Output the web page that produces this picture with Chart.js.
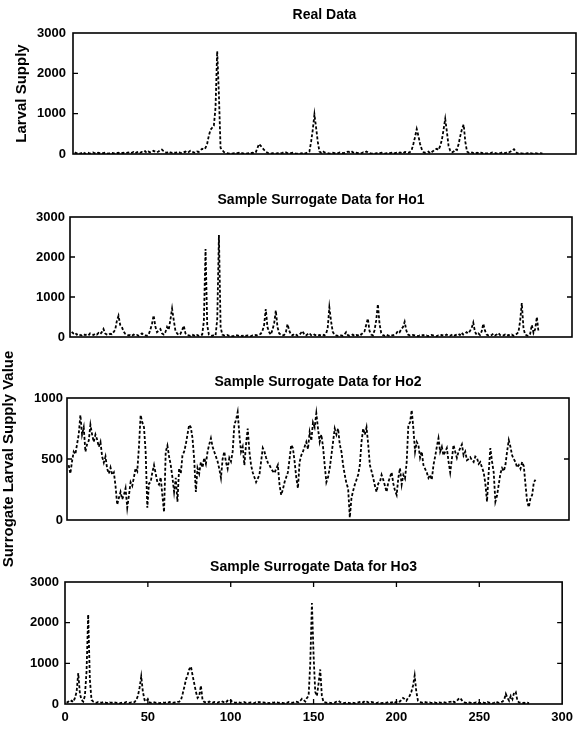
<!DOCTYPE html>
<html>
<head>
<meta charset="utf-8">
<script src="https://cdn.jsdelivr.net/npm/chart.js@4/dist/chart.umd.min.js"></script>
<style>
  html, body { margin: 0; padding: 0; background: #fff; }
  #fig { position: relative; width: 579px; height: 732px; overflow: hidden; background: #fff; }
  #fig canvas { position: absolute; left: 0; }
</style>
</head>
<body>
<div id="fig">
  <canvas id="p1" width="579" height="172" style="top:0px"></canvas>
  <canvas id="p2" width="579" height="172" style="top:178px"></canvas>
  <canvas id="p3" width="579" height="242" style="top:338px"></canvas>
  <canvas id="p4" width="579" height="182" style="top:550px"></canvas>
</div>
<script>
// Sampling days (x) shared by all four series
const days = Array.from({ length: 280 }, (_, i) => i + 1);

// Tick values
const xTickValues = [0, 50, 100, 150, 200, 250, 300];
const yTicksSupply = [0, 1000, 2000, 3000];
const yTicksHo2 = [0, 500, 1000];

// Observed larval supply
const realData = [
  40, 20, 30, 10, 20, 50, 10, 20, 30, 10,
  20, 40, 20, 10, 30, 20, 10, 20, 30, 20,
  10, 20, 30, 20, 10, 20, 30, 10, 20, 30,
  20, 30, 40, 20, 30, 50, 20, 40, 60, 30,
  50, 40, 70, 30, 60, 40, 50, 80, 60, 40,
  60, 90, 110, 70, 40, 30, 60, 40, 30, 50,
  30, 40, 50, 30, 20, 40, 60, 30, 50, 80,
  60, 40, 30, 60, 50, 90, 130, 110, 150, 250,
  450, 600, 650, 700, 1150, 2550, 1500, 150, 100, 50,
  30, 20, 10, 20, 10, 20, 10, 20, 30, 10,
  20, 10, 20, 10, 30, 20, 30, 20, 40, 150,
  250, 200, 150, 100, 60, 30, 20, 10, 20, 10,
  10, 20, 10, 20, 30, 50, 40, 20, 10, 20,
  30, 20, 10, 10, 20, 10, 30, 10, 20, 50,
  60, 300, 600, 980, 650, 300, 60, 30, 70, 40,
  30, 20, 10, 20, 30, 20, 10, 20, 40, 30,
  20, 30, 40, 60, 50, 70, 40, 20, 30, 20,
  10, 20, 40, 30, 60, 40, 20, 10, 20, 10,
  20, 10, 20, 30, 20, 10, 20, 10, 20, 30,
  10, 20, 30, 20, 40, 30, 20, 50, 40, 30,
  50, 100, 250, 420, 620, 450, 250, 120, 50, 30,
  40, 60, 20, 50, 80, 120, 130, 100, 200, 350,
  600, 870, 550, 200, 80, 40, 60, 120, 100, 250,
  450, 620, 730, 300, 60, 30, 20, 40, 20, 10,
  30, 20, 40, 20, 30, 20, 10, 30, 20, 40,
  30, 20, 10, 30, 20, 40, 30, 20, 50, 40,
  60, 90, 120, 60, 20, 10, 20, 10, 20, 10,
  20, 10, 20, 10, 10, 20, 10, 10, 20, 10
];

// Surrogate series, null hypothesis Ho1
const surrogateHo1 = [
  130, 90, 110, 60, 80, 50, 40, 70, 50, 60,
  40, 90, 70, 50, 80, 60, 100, 70, 120, 200,
  90, 60, 50, 80, 70, 120, 180, 400, 530, 300,
  250, 140, 80, 60, 40, 50, 30, 60, 40, 50,
  30, 60, 90, 50, 40, 30, 60, 180, 330, 540,
  260, 120, 160, 200, 90, 60, 120, 250, 180, 430,
  710, 420, 160, 90, 50, 80, 170, 280, 90, 50,
  40, 30, 60, 40, 20, 50, 30, 40, 60, 400,
  2200, 300, 60, 40, 30, 50, 40, 450, 2550, 250,
  60, 40, 30, 50, 30, 40, 20, 30, 50, 40,
  30, 40, 20, 50, 30, 40, 30, 20, 40, 30,
  50, 40, 60, 80, 150, 300, 700, 250, 120, 60,
  180, 340, 660, 250, 90, 60, 40, 50, 120, 320,
  160, 60, 40, 80, 60, 30, 50, 100, 150, 60,
  40, 70, 100, 50, 30, 60, 40, 30, 50, 40,
  60, 40, 80, 220, 740, 400, 130, 60, 40, 30,
  50, 40, 30, 60, 120, 50, 30, 40, 60, 30,
  50, 40, 80, 60, 100, 140, 300, 460, 150, 60,
  40, 170, 420, 820, 320, 100, 50, 30, 60, 40,
  30, 50, 40, 60, 90, 150, 120, 200, 250, 380,
  160, 60, 40, 30, 50, 40, 30, 20, 40, 30,
  50, 30, 40, 20, 30, 50, 40, 30, 20, 40,
  30, 50, 40, 30, 60, 40, 30, 50, 70, 40,
  60, 80, 50, 110, 60, 80, 120, 90, 150, 220,
  360, 130, 60, 90, 50, 140, 330, 160, 60, 40,
  30, 50, 80, 40, 60, 100, 50, 30, 40, 60,
  30, 50, 40, 60, 30, 50, 80, 120, 400, 850,
  220, 60, 40, 30, 80, 300, 100, 200, 500, 120
];

// Surrogate series, null hypothesis Ho2
const surrogateHo2 = [
  450, 380, 480, 560, 540, 620, 700, 860, 700, 760,
  560, 620, 650, 780, 700, 640, 700, 660, 600, 640,
  520, 470, 520, 420, 380, 430, 370, 390, 280, 125,
  180, 230, 170, 205, 260, 100, 200, 310, 280, 350,
  425, 400, 600, 860, 800, 760, 560, 100, 300, 310,
  390, 450, 380, 310, 290, 350, 200, 65, 560, 610,
  520, 450, 350, 230, 345, 150, 425, 380, 530, 560,
  620, 700, 780, 760, 670, 500, 230, 425, 380, 475,
  430, 510, 460, 560, 620, 670, 600, 560, 520, 480,
  420, 345, 500, 560, 475, 420, 510, 480, 560, 780,
  820, 885, 700, 560, 600, 450, 620, 750, 560, 450,
  390, 350, 310, 340, 370, 480, 590, 560, 510, 470,
  450, 420, 400, 385, 420, 450, 290, 205, 250, 310,
  350, 390, 500, 615, 590, 480, 350, 260, 475, 530,
  560, 600, 640, 580, 720, 650, 800, 760, 875, 750,
  640, 700, 600, 450, 310, 350, 425, 530, 640, 750,
  700, 750, 620, 560, 450, 370, 300, 260, 20, 180,
  240, 290, 330, 370, 450, 640, 750, 700, 760, 620,
  450, 400, 345, 280, 230, 300, 310, 370, 330, 280,
  230, 310, 350, 390, 300, 240, 205, 345, 425, 290,
  370, 340, 475, 780, 800, 900, 750, 560, 640, 615,
  510, 560, 450, 420, 390, 345, 370, 330, 450, 520,
  600, 670, 560, 600, 530, 560, 590, 480, 390, 500,
  615, 560, 510, 560, 590, 620, 530, 560, 490, 500,
  515, 490, 475, 520, 510, 460, 475, 430, 390, 300,
  150, 390, 590, 480, 390, 150, 200, 290, 380, 425,
  400, 450, 560, 655, 600, 530, 500, 475, 430, 450,
  420, 475, 440, 290, 150, 105, 180, 205, 310, 330
];

// Surrogate series, null hypothesis Ho3
const surrogateHo3 = [
  30, 60, 40, 80, 50, 150, 300, 760, 250, 100,
  60, 200, 800, 2200, 600, 100, 60, 40, 30, 50,
  40, 30, 50, 40, 30, 20, 40, 30, 50, 40,
  30, 40, 20, 30, 40, 30, 50, 40, 30, 40,
  30, 50, 100, 200, 400, 680, 300, 100, 60, 120,
  40, 30, 50, 40, 30, 40, 20, 30, 40, 30,
  40, 30, 50, 40, 30, 40, 30, 50, 60, 100,
  250, 420, 600, 720, 860, 920, 700, 500, 300, 150,
  200, 450, 100, 50, 40, 30, 60, 40, 30, 50,
  40, 30, 50, 40, 60, 40, 30, 80, 60, 90,
  50, 40, 30, 50, 40, 30, 40, 50, 30, 40,
  30, 40, 30, 20, 40, 30, 50, 40, 30, 40,
  30, 40, 20, 30, 40, 30, 50, 40, 30, 40,
  30, 20, 40, 30, 50, 40, 30, 40, 60, 50,
  40, 80, 130, 100, 60, 150, 200, 1000, 2480, 1200,
  300, 200, 500, 850, 200, 50, 40, 30, 40, 30,
  20, 30, 40, 60, 80, 50, 30, 20, 30, 40,
  30, 20, 40, 30, 20, 30, 40, 50, 60, 40,
  80, 60, 40, 30, 50, 40, 30, 20, 40, 30,
  20, 30, 40, 30, 50, 40, 30, 60, 40, 50,
  80, 60, 100, 150, 120, 80, 150, 200, 300, 450,
  700, 300, 80, 50, 40, 30, 50, 40, 30, 40,
  30, 20, 40, 30, 20, 40, 30, 50, 40, 30,
  40, 50, 60, 80, 40, 60, 100, 150, 120, 60,
  40, 30, 20, 40, 30, 20, 30, 40, 20, 30,
  20, 40, 30, 20, 50, 30, 40, 20, 30, 60,
  40, 30, 50, 60, 100, 250, 150, 80, 200, 120,
  280, 300, 80, 40, 30, 20, 30, 20, 30, 20
];

const FONT = '"Liberation Sans", Arial, Helvetica, sans-serif';
const W = 579;

// Box around the plot area with short inward tick marks on every side
const framePlugin = {
  id: 'frame',
  afterDatasetsDraw(chart, args, opts) {
    const { ctx, chartArea: a, scales: { x, y } } = chart;
    const len = 5;
    ctx.save();
    ctx.strokeStyle = '#000';
    ctx.lineWidth = 1.6;
    ctx.strokeRect(a.left, a.top, a.right - a.left, a.bottom - a.top);
    ctx.beginPath();
    y.ticks.forEach(t => {
      const py = y.getPixelForValue(t.value);
      if (py <= a.top + 1 || py >= a.bottom - 1) return;
      ctx.moveTo(a.left, py); ctx.lineTo(a.left + len, py);
      ctx.moveTo(a.right, py); ctx.lineTo(a.right - len, py);
    });
    if (opts.xTicks) {
      x.ticks.forEach(t => {
        const px = x.getPixelForValue(t.value);
        if (px <= a.left + 1 || px >= a.right - 1) return;
        ctx.moveTo(px, a.bottom); ctx.lineTo(px, a.bottom - len);
        ctx.moveTo(px, a.top); ctx.lineTo(px, a.top + len);
      });
    }
    ctx.lineWidth = 1.3;
    ctx.stroke();
    ctx.restore();
  }
};

function makePanel(cfg) {
  const titleSize = 14, titleLH = titleSize * 1.2;
  const canvasBottom = cfg.canvasTop + cfg.canvasH;
  const titlePadTop = cfg.titleY - cfg.canvasTop - titleLH / 2;
  const titlePadBottom = cfg.area.top - cfg.titleY - titleLH / 2;
  const xScale = {
    type: 'linear', min: 0, max: 300,
    display: cfg.showX,
    grid: { display: false, drawTicks: false },
    border: { display: false },
    ticks: {
      padding: 6, color: '#000', maxRotation: 0,
      font: { family: FONT, size: 13, weight: 'bold' },
      callback: v => String(v)
    },
    afterBuildTicks: s => { s.ticks = xTickValues.map(v => ({ value: v })); }
  };
  if (cfg.showX) {
    xScale.afterFit = s => { s.height = canvasBottom - cfg.area.bottom; };
  }
  return new Chart(document.getElementById(cfg.id), {
    type: 'line',
    data: {
      datasets: [{
        data: days.map((d, i) => ({ x: d, y: cfg.values[i] })),
        borderColor: '#000',
        borderWidth: 1.8,
        borderDash: [3, 2],
        pointRadius: 0,
        fill: false,
        tension: 0
      }]
    },
    options: {
      responsive: false,
      animation: false,
      devicePixelRatio: 1,
      layout: {
        padding: {
          left: 0, top: 0,
          right: W - cfg.area.right,
          bottom: cfg.showX ? 0 : canvasBottom - cfg.area.bottom
        }
      },
      plugins: {
        legend: { display: false },
        tooltip: { enabled: false },
        title: {
          display: true, text: cfg.title, fullSize: false, color: '#000',
          font: { family: FONT, size: titleSize, weight: 'bold', lineHeight: 1.2 },
          padding: { top: titlePadTop, bottom: titlePadBottom }
        },
        frame: { xTicks: cfg.showX }
      },
      scales: {
        x: xScale,
        y: {
          type: 'linear', min: 0, max: cfg.yMax,
          grid: { display: false, drawTicks: false },
          border: { display: false },
          ticks: {
            padding: cfg.tickPad, color: '#000',
            font: { family: FONT, size: 13, weight: 'bold' },
            callback: v => String(v)
          },
          afterBuildTicks: s => { s.ticks = cfg.yTicks.map(v => ({ value: v })); },
          afterFit: s => { s.width = cfg.area.left; },
          title: {
            display: !!cfg.yTitle, text: cfg.yTitle || '', color: '#000',
            font: { family: FONT, size: 15, weight: 'bold', lineHeight: 1.2 },
            padding: { top: cfg.yTitlePad || 0, bottom: 0 }
          }
        }
      }
    },
    plugins: [framePlugin]
  });
}

makePanel({
  id: 'p1', canvasTop: 0, canvasH: 172, titleY: 15,
  area: { left: 73, right: 576, top: 33, bottom: 154 },
  values: realData, yMax: 3000, yTicks: yTicksSupply, tickPad: 7,
  title: 'Real Data', yTitle: 'Larval Supply', yTitlePad: 13, showX: false
});
makePanel({
  id: 'p2', canvasTop: 178, canvasH: 172, titleY: 200,
  area: { left: 70, right: 572, top: 217, bottom: 337 },
  values: surrogateHo1, yMax: 3000, yTicks: yTicksSupply, tickPad: 5,
  title: 'Sample Surrogate Data for Ho1', showX: false
});
makePanel({
  id: 'p3', canvasTop: 338, canvasH: 242, titleY: 382,
  area: { left: 67, right: 569, top: 398, bottom: 520 },
  values: surrogateHo2, yMax: 1000, yTicks: yTicksHo2, tickPad: 4,
  title: 'Sample Surrogate Data for Ho2', yTitle: 'Surrogate Larval Supply Value', yTitlePad: 0, showX: false
});
makePanel({
  id: 'p4', canvasTop: 550, canvasH: 182, titleY: 567,
  area: { left: 65, right: 566, top: 582, bottom: 704 },
  values: surrogateHo3, yMax: 3000, yTicks: yTicksSupply, tickPad: 6,
  title: 'Sample Surrogate Data for Ho3', showX: true
});
</script>
</body>
</html>
